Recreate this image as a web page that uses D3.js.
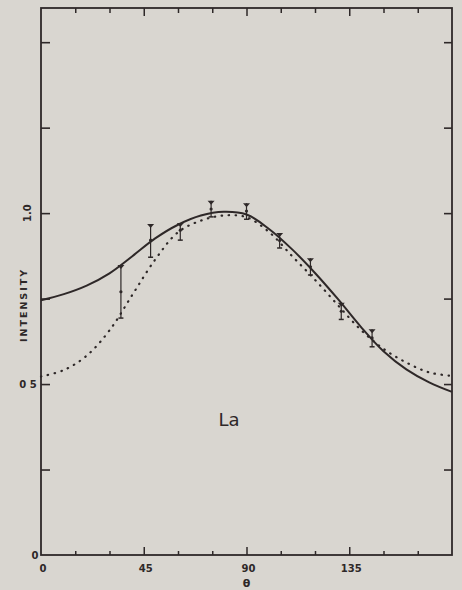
<!DOCTYPE html>
<html>
<head>
<meta charset="utf-8">
<script src="https://cdn.jsdelivr.net/npm/d3@7"></script>
<style>
  body { margin: 0; background: #d9d6d0; }
  svg { display: block; }
</style>
</head>
<body>
<div id="chart"></div>
<script>
// Angles (degrees) for the two calculated curves
var curveAngles = [0, 10, 20, 30, 40, 50, 60, 70, 80, 90, 100, 110, 120, 130, 140, 150, 160, 170, 180];
// Solid curve
var solidValues = [0.745, 0.763, 0.788, 0.824, 0.874, 0.926, 0.966, 0.993, 1.004, 0.996, 0.953, 0.894, 0.825, 0.749, 0.668, 0.596, 0.543, 0.505, 0.477];
// Dotted curve
var dottedValues = [0.522, 0.541, 0.583, 0.657, 0.761, 0.864, 0.944, 0.978, 0.993, 0.988, 0.944, 0.874, 0.805, 0.731, 0.659, 0.603, 0.563, 0.534, 0.524];

// Measured points with error bars
var pointAngles = [35, 48, 61, 74.5, 90, 104.5, 118, 131.5, 145];
var pointValues = [0.77, 0.921, 0.95, 1.012, 1.006, 0.92, 0.843, 0.713, 0.635];
var pointLow = [0.693, 0.871, 0.921, 0.989, 0.982, 0.898, 0.819, 0.689, 0.609];
var pointHigh = [0.848, 0.968, 0.971, 1.036, 1.029, 0.942, 0.868, 0.738, 0.66];

// Tick labels
var xTickLabels = [0, 45, 90, 135];
var yTickLabels = [0, 0.5, 1.0];

var ink = "#2e2828";
var W = 462, H = 590;

var svg = d3.select("#chart")
    .append("svg")
    .attr("width", W)
    .attr("height", H);

svg.append("rect")
    .attr("width", W)
    .attr("height", H)
    .attr("fill", "#d9d6d0");

var x = d3.scaleLinear().domain([0, 180]).range([41, 452]);
var y = d3.scaleLinear().domain([0, 1.6]).range([555, 8]);

// Frame
svg.append("rect")
    .attr("x", x(0))
    .attr("y", y(1.6))
    .attr("width", x(180) - x(0))
    .attr("height", y(0) - y(1.6))
    .attr("fill", "none")
    .attr("stroke", ink)
    .attr("stroke-width", 1.8);

var xTicks = d3.range(15, 180, 15);
var yTicks = d3.range(0.25, 1.6, 0.25);
var isMajor = function(d) { return d % 45 === 0; };

// Bottom ticks (pointing up)
svg.append("g")
    .attr("transform", "translate(0," + y(0) + ")")
    .call(d3.axisBottom(x).tickValues(xTicks).tickSizeInner(0).tickSizeOuter(0).tickFormat(""))
    .call(g => g.select(".domain").remove())
    .selectAll(".tick line")
    .attr("y2", function(d) { return isMajor(d) ? -8 : -4; })
    .attr("stroke", ink)
    .attr("stroke-width", 1.5);

// Top ticks (pointing down)
svg.append("g")
    .attr("transform", "translate(0," + y(1.6) + ")")
    .call(d3.axisTop(x).tickValues(xTicks).tickSizeInner(0).tickSizeOuter(0).tickFormat(""))
    .call(g => g.select(".domain").remove())
    .selectAll(".tick line")
    .attr("y2", function(d) { return isMajor(d) ? 8 : 5; })
    .attr("stroke", ink)
    .attr("stroke-width", 1.5);

// Left and right ticks (pointing inward)
svg.append("g")
    .attr("transform", "translate(" + x(0) + ",0)")
    .call(d3.axisLeft(y).tickValues(yTicks).tickSizeInner(-9).tickSizeOuter(0).tickFormat(""))
    .call(g => g.select(".domain").remove())
    .selectAll(".tick line")
    .attr("stroke", ink)
    .attr("stroke-width", 1.6);

svg.append("g")
    .attr("transform", "translate(" + x(180) + ",0)")
    .call(d3.axisRight(y).tickValues(yTicks).tickSizeInner(-8).tickSizeOuter(0).tickFormat(""))
    .call(g => g.select(".domain").remove())
    .selectAll(".tick line")
    .attr("stroke", ink)
    .attr("stroke-width", 1.6);

var font = "'DejaVu Sans', sans-serif";

// X tick labels
svg.selectAll(".xlab")
    .data(xTickLabels)
    .enter()
    .append("text")
    .attr("x", function(d) { return x(d) + 2; })
    .attr("y", 572)
    .attr("text-anchor", "middle")
    .attr("font-family", font)
    .attr("font-weight", "bold")
    .attr("font-size", 10)
    .attr("fill", ink)
    .text(function(d) { return d; });

// Y tick labels
svg.selectAll(".ylab")
    .data(yTickLabels)
    .enter()
    .append("text")
    .attr("transform", function(d) {
        if (d === 1) return "translate(31," + y(d) + ") rotate(-90)";
        return "translate(" + (d === 0 ? 35 : 28) + "," + (y(d) + 4) + ")";
    })
    .attr("text-anchor", "middle")
    .attr("font-family", font)
    .attr("font-weight", "bold")
    .attr("font-size", 10)
    .attr("fill", ink)
    .text(function(d) { return d === 0 ? "0" : d === 0.5 ? "0 5" : "1.0"; });

// Axis titles
svg.append("text")
    .attr("transform", "translate(27,305) rotate(-90)")
    .attr("text-anchor", "middle")
    .attr("font-family", font)
    .attr("font-weight", "bold")
    .attr("font-size", 9.5)
    .attr("letter-spacing", 2)
    .attr("fill", ink)
    .text("INTENSITY");

svg.append("text")
    .attr("x", x(90))
    .attr("y", 587)
    .attr("text-anchor", "middle")
    .attr("font-family", font)
    .attr("font-weight", "bold")
    .attr("font-size", 11)
    .attr("fill", ink)
    .text("θ");

// Element label
svg.append("text")
    .attr("x", 229)
    .attr("y", 426)
    .attr("text-anchor", "middle")
    .attr("font-family", font)
    .attr("font-size", 18)
    .attr("fill", ink)
    .text("La");

// Curves
var solidData = curveAngles.map(function(a, i) { return { a: a, v: solidValues[i] }; });
var dottedData = curveAngles.map(function(a, i) { return { a: a, v: dottedValues[i] }; });

var line = d3.line()
    .x(function(d) { return x(d.a); })
    .y(function(d) { return y(d.v); })
    .curve(d3.curveCatmullRom.alpha(0.5));

svg.append("path")
    .datum(dottedData)
    .attr("d", line)
    .attr("fill", "none")
    .attr("stroke", ink)
    .attr("stroke-width", 2.2)
    .attr("stroke-linecap", "round")
    .attr("stroke-dasharray", "0.5 6.5");

svg.append("path")
    .datum(solidData)
    .attr("d", line)
    .attr("fill", "none")
    .attr("stroke", ink)
    .attr("stroke-width", 2);

// Error bars
var points = pointAngles.map(function(a, i) {
    return { a: a, v: pointValues[i], lo: pointLow[i], hi: pointHigh[i] };
});

var bars = svg.selectAll(".pt")
    .data(points)
    .enter()
    .append("g");

bars.append("line")
    .attr("x1", function(d) { return x(d.a); })
    .attr("x2", function(d) { return x(d.a); })
    .attr("y1", function(d) { return y(d.lo); })
    .attr("y2", function(d) { return y(d.hi); })
    .attr("stroke", ink)
    .attr("stroke-width", 1.2);

// top cap: small downward triangle
bars.append("path")
    .attr("d", function(d) {
        var cx = x(d.a), cy = y(d.hi);
        return "M" + (cx - 3.5) + "," + cy + "L" + (cx + 3.5) + "," + cy + "L" + cx + "," + (cy + 4) + "Z";
    })
    .attr("fill", ink);

// bottom cap
bars.append("line")
    .attr("x1", function(d) { return x(d.a) - 2.5; })
    .attr("x2", function(d) { return x(d.a) + 2.5; })
    .attr("y1", function(d) { return y(d.lo); })
    .attr("y2", function(d) { return y(d.lo); })
    .attr("stroke", ink)
    .attr("stroke-width", 1.5);

// center
bars.append("circle")
    .attr("cx", function(d) { return x(d.a); })
    .attr("cy", function(d) { return y(d.v); })
    .attr("r", 1.6)
    .attr("fill", ink);
</script>
</body>
</html>
